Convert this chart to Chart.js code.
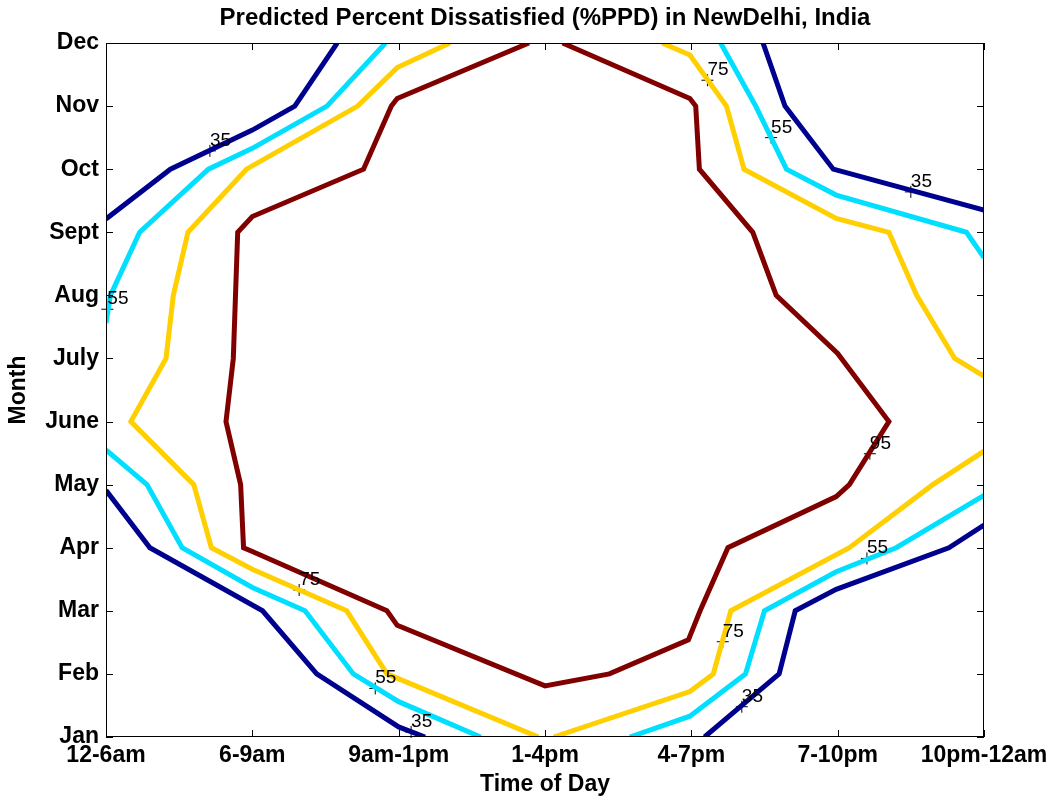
<!DOCTYPE html>
<html>
<head>
<meta charset="utf-8">
<script src="https://cdn.jsdelivr.net/npm/chart.js@4/dist/chart.umd.min.js"></script>
<style>
  html, body { margin: 0; padding: 0; background: #fff; }
  #chart { display: block; }
</style>
</head>
<body>
<canvas id="chart" width="1054" height="800"></canvas>
<script>
// axis categories
const timeLabels = ['12-6am', '6-9am', '9am-1pm', '1-4pm', '4-7pm', '7-10pm', '10pm-12am'];
const monthLabels = ['Jan', 'Feb', 'Mar', 'Apr', 'May', 'June', 'July', 'Aug', 'Sept', 'Oct', 'Nov', 'Dec'];
const chartTitle = 'Predicted Percent Dissatisfied (%PPD) in NewDelhi, India';

// contour pieces, [time index, month index]
const ppd35TopLeft = [[1, 9.21], [1.44, 10], [2.0, 10.62], [2.29, 11], [2.58, 12]];
const ppd35BottomLeft = [[1, 4.91], [1.30, 4], [2.07, 3], [2.44, 2], [3.0, 1.16], [3.18, 1]];
const ppd35TopRight = [[5.49, 12], [5.64, 11], [5.97, 10], [7, 9.35]];
const ppd35BottomRight = [[5.09, 1], [5.6, 2], [5.71, 3], [5.99, 3.34], [6.76, 4], [7, 4.36]];

const ppd55TopLeft = [[2.91, 12], [2.51, 11], [2.0, 10.33], [1.70, 10], [1.23, 9], [1.03, 8], [1, 7.56]];
const ppd55BottomLeft = [[1, 5.55], [1.28, 5], [1.52, 4], [2.0, 3.37], [2.36, 3], [2.69, 2], [3.0, 1.56], [3.56, 1]];
const ppd55BottomRight = [[4.58, 1], [4.99, 1.33], [5.37, 2], [5.50, 3], [5.99, 3.62], [6.40, 4], [7, 4.83]];
const ppd55TopRight = [[5.20, 12], [5.44, 11], [5.65, 10], [5.99, 9.59], [6.88, 9], [7, 8.6]];

const ppd75Left = [[3.35, 12], [2.99, 11.61], [2.72, 11], [1.96, 10], [1.56, 9], [1.46, 8], [1.41, 7], [1.17, 6],
  [1.60, 5], [1.72, 4], [2.0, 3.66], [2.645, 3], [2.92, 2], [3.955, 1]];
const ppd75BottomRight = [[4.06, 1], [4.99, 1.72], [5.15, 2], [5.27, 3], [6.08, 4], [6.65, 5], [7, 5.53]];
const ppd75TopRight = [[4.80, 12], [4.99, 11.81], [5.24, 11], [5.36, 10], [5.99, 9.22], [6.35, 9], [6.54, 8], [6.80, 7], [7, 6.72]];

const ppd95Ring = [[3.89, 12], [2.99, 11.12], [2.95, 11], [2.76, 10], [2.0, 9.25], [1.90, 9], [1.885, 8], [1.87, 7],
  [1.82, 6], [1.92, 5], [1.94, 4], [2.0, 3.94], [2.92, 3], [2.99, 2.77], [4.0, 1.81], [4.44, 2], [4.98, 2.54],
  [5.06, 3], [5.25, 4], [5.99, 4.81], [6.08, 5], [6.35, 6], [6.0, 7.08], [5.58, 8], [5.42, 9], [5.055, 10],
  [5.03, 11], [4.99, 11.12], [4.12, 12]];

// contour labels
const labelX = [1.71, 1.009, 5.11, 5.545, 6.5, 6.22, 6.2, 2.32, 2.84, 3.085, 5.215, 5.345];
const labelY = [10.29, 7.78, 11.41, 10.5, 9.64, 5.49, 3.83, 3.33, 1.77, 1.08, 2.51, 1.48];
const labelText = ['35', '55', '75', '55', '35', '95', '55', '75', '55', '35', '75', '35'];

const levelColors = { 35: '#00008f', 55: '#00dfff', 75: '#ffcf00', 95: '#800000' };
const pieces = [
  [35, ppd35TopLeft], [35, ppd35BottomLeft], [35, ppd35TopRight], [35, ppd35BottomRight],
  [55, ppd55TopLeft], [55, ppd55BottomLeft], [55, ppd55BottomRight], [55, ppd55TopRight],
  [75, ppd75Left], [75, ppd75BottomRight], [75, ppd75TopRight],
  [95, ppd95Ring]
];

const FONT = '"Liberation Sans", Arial, Helvetica, sans-serif';
Chart.defaults.font.family = FONT;
Chart.defaults.color = '#000';

// axes box with inward ticks, contour label text, title centred over the axes
const frame = {
  id: 'frame',
  afterDatasetsDraw(chart) {
    const { ctx, chartArea: a, scales: { x, y } } = chart;
    ctx.save();
    ctx.strokeStyle = '#000';
    ctx.lineWidth = 1;
    ctx.beginPath();
    x.ticks.forEach((t) => {
      const px = Math.round(x.getPixelForValue(t.value)) + 0.5;
      ctx.moveTo(px, a.bottom); ctx.lineTo(px, a.bottom - 7);
      ctx.moveTo(px, a.top); ctx.lineTo(px, a.top + 7);
    });
    y.ticks.forEach((t) => {
      const py = Math.round(y.getPixelForValue(t.value)) + 0.5;
      ctx.moveTo(a.left, py); ctx.lineTo(a.left + 7, py);
      ctx.moveTo(a.right, py); ctx.lineTo(a.right - 7, py);
    });
    ctx.stroke();
    ctx.strokeRect(a.left + 0.5, a.top + 0.5, a.right - a.left - 1, a.bottom - a.top - 1);

    ctx.fillStyle = '#000';
    ctx.font = '19px ' + FONT;
    ctx.textAlign = 'left';
    ctx.textBaseline = 'alphabetic';
    labelText.forEach((txt, i) => {
      ctx.fillText(txt, x.getPixelForValue(labelX[i]), y.getPixelForValue(labelY[i]) - 5);
    });

    ctx.font = 'bold 24px ' + FONT;
    ctx.textAlign = 'center';
    ctx.textBaseline = 'middle';
    ctx.fillText(chartTitle, (a.left + a.right) / 2, 18);
    ctx.restore();
  }
};

const datasets = pieces.map(([level, pts]) => ({
  label: String(level),
  data: pts.map(([px, py]) => ({ x: px, y: py })),
  showLine: true,
  borderColor: levelColors[level],
  backgroundColor: levelColors[level],
  borderWidth: 5,
  borderJoinStyle: 'miter',
  pointRadius: 0,
  clip: 0
}));
datasets.push({
  label: 'labels',
  data: labelX.map((v, i) => ({ x: v, y: labelY[i] })),
  showLine: false,
  pointStyle: 'cross',
  pointRadius: 6,
  borderColor: '#000',
  borderWidth: 1,
  clip: false
});

new Chart(document.getElementById('chart'), {
  type: 'scatter',
  data: { datasets },
  options: {
    responsive: false,
    animation: false,
    devicePixelRatio: 1,
    layout: { padding: { left: 0, right: 70, top: 43, bottom: 0 } },
    plugins: {
      legend: { display: false },
      tooltip: { enabled: false },
      title: { display: false }
    },
    scales: {
      x: {
        type: 'linear', min: 1, max: 7,
        grid: { display: false, drawTicks: false }, border: { display: false },
        ticks: {
          stepSize: 1, autoSkip: false, maxRotation: 0, padding: 5,
          font: { size: 23, weight: 'bold' },
          callback: (v) => timeLabels[v - 1]
        },
        title: { display: true, text: 'Time of Day', font: { size: 23, weight: 'bold' }, padding: { top: 0, bottom: 1.5 } },
        afterFit: (scale) => { scale.height = 63; }
      },
      y: {
        type: 'linear', min: 1, max: 12,
        grid: { display: false, drawTicks: false }, border: { display: false },
        ticks: {
          stepSize: 1, autoSkip: false, padding: 7,
          font: { size: 23, weight: 'bold' },
          callback: (v) => monthLabels[v - 1]
        },
        title: { display: true, text: 'Month', font: { size: 23, weight: 'bold' }, padding: { top: 5, bottom: 0 } },
        afterFit: (scale) => { scale.width = 106; }
      }
    }
  },
  plugins: [frame]
});
</script>
</body>
</html>
